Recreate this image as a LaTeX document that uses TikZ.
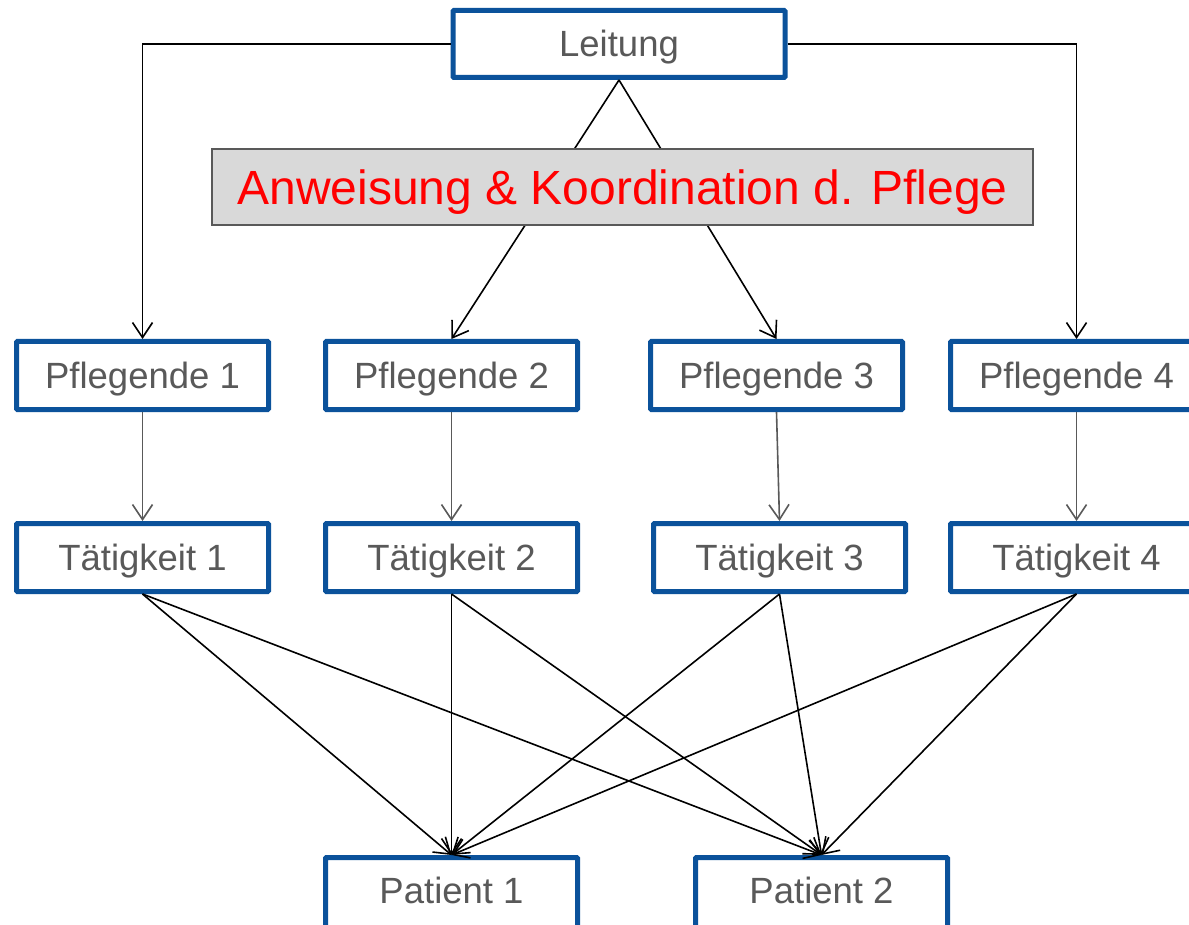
\documentclass[tikz,border=0pt]{standalone}
\usepackage{fontspec}
\setmainfont{Liberation Sans}
\usetikzlibrary{arrows.meta}
\definecolor{boxblue}{RGB}{11,82,155}
\definecolor{txtgray}{RGB}{89,89,89}
\definecolor{fillgray}{RGB}{217,217,217}
\definecolor{pfred}{RGB}{255,0,0}
\tikzset{
  bluebox/.style={draw=boxblue, line width=5pt, fill=white, rounded corners=1pt,
    minimum width=252pt, minimum height=68pt, inner sep=0pt,
    text=txtgray, font=\fontsize{36.5}{40}\selectfont, text height=25.8pt, text depth=0pt},
  graybox/.style={draw=txtgray, line width=2pt, fill=fillgray,
    minimum width=821pt, minimum height=76pt, inner sep=0pt,
    text=pfred, font=\fontsize{48}{52}\selectfont, text height=34.4pt, text depth=0pt},
  conn/.style={draw=black, line width=1.6pt, -{Straight Barb[length=15pt,width=20pt,line width=1.6pt]}},
  gconn/.style={draw=txtgray, line width=1.6pt, -{Straight Barb[length=15pt,width=20pt,line width=1.6pt]}}
}
\begin{document}
\begin{tikzpicture}[x=1pt,y=-1pt]
\useasboundingbox (0,0) rectangle (1189,925);
\fill[white] (0,0) rectangle (1189,925);
% nodes
\node[bluebox, minimum width=332pt, minimum height=67pt] (L) at (619,44) {Leitung};
\node[bluebox] (P1) at (142.5,375.5) {Pflegende 1};
\node[bluebox] (P2) at (451.5,375.5) {Pflegende 2};
\node[bluebox] (P3) at (776.5,375.5) {Pflegende 3};
\node[bluebox] (P4) at (1076.5,375.5) {Pflegende 4};
\node[bluebox] (T1) at (142.5,557.5) {Tätigkeit 1};
\node[bluebox] (T2) at (451.5,557.5) {Tätigkeit 2};
\node[bluebox] (T3) at (779.5,557.5) {Tätigkeit 3};
\node[bluebox] (T4) at (1076.5,557.5) {Tätigkeit 4};
\node[bluebox, minimum height=76pt, text depth=10pt] (Q1) at (451.5,895.5) {Patient 1};
\node[bluebox, minimum height=76pt, text depth=10pt] (Q2) at (821.5,895.5) {Patient 2};
% connectors
\draw[conn] (L.west) -| (P1.north);
\draw[conn] (L.east) -| (P4.north);
\draw[conn] (L.south) -- (P2.north);
\draw[conn] (L.south) -- (P3.north);
\node[graybox] (G) at (622.5,187) {Anweisung \& Koordination d. Pflege};
\foreach \i in {1,2,3,4} {
  \draw[gconn] (P\i.south) -- (T\i.north);
  \draw[conn] (T\i.south) -- (Q1.north);
  \draw[conn] (T\i.south) -- (Q2.north);
}
\end{tikzpicture}
\end{document}
